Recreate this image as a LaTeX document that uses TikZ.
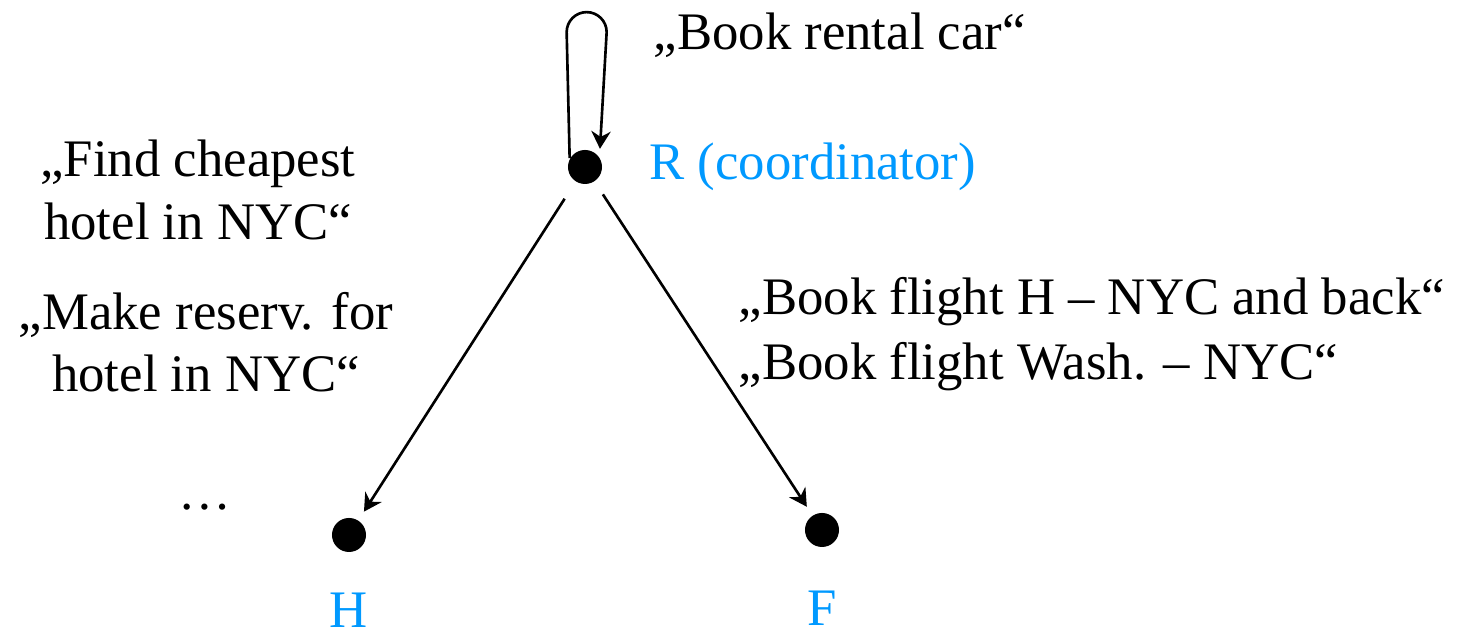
\documentclass[tikz,border=0pt]{standalone}
\usepackage{fontspec}
\setmainfont{Liberation Serif}
\usepackage{xcolor}
\usetikzlibrary{arrows.meta, positioning}
\definecolor{agentblue}{HTML}{0099FF}

\begin{document}
\begin{tikzpicture}[
			x=0.01cm, y=0.01cm,
			node distance=0.43cm and 0.46cm,
			every node/.style={font=\fontsize{15}{17.7}\selectfont},
			agent/.style={circle, fill, inner sep=0pt, minimum size=0.34cm},
			agentname/.style={text=agentblue, inner sep=0pt},
			request/.style={align=center, inner sep=0pt},
			arrow/.style={-{Stealth[length=5pt, width=5.5pt]}, line width=0.75pt}
			]
			\useasboundingbox (0,0) rectangle (1465,637);
			
			% Agents
			\node (R) [agent] at (585,470) {};
			\node (H) [agent] at (349,102) {};
			\node (F) [agent] at (822,107) {};
			\node (R_name) [agentname, right=of R] {R (coordinator)};
			\node (H_name) [agentname, below=0.4cm of H] {H};
			\node (F_name) [agentname, below=of F] {F};
			
			% Requests
			\node (car) [inner sep=0pt, anchor=base west] at (653,587) {„Book rental car“};
			\node (hotel_find) [request] at (198,447) {„Find cheapest\\hotel in NYC“};
			\node (hotel_reserv) [request] at (206,295) {„Make reserv. for\\hotel in NYC“};
			\node (flight_h) [inner sep=0pt, anchor=base west] at (738,322) {„Book flight H – NYC and back“};
			\node (flight_wash) [inner sep=0pt, anchor=base west] at (738,257) {„Book flight Wash. – NYC“};
			\node (more) [inner sep=0pt, anchor=base] at (205,127) {\dots};
			
			% Connections
			\draw [arrow, shorten >=0.08cm] (R.150) -- ++(-3,126) arc[start angle=180, end angle=0, radius=20] -- (R.35);
			\draw [arrow, shorten <=0.2cm, shorten >=0.1cm] (R) -- (H);
			\draw [arrow, shorten <=0.15cm, shorten >=0.1cm] (R) -- (F);
			
		\end{tikzpicture}
\end{document}
